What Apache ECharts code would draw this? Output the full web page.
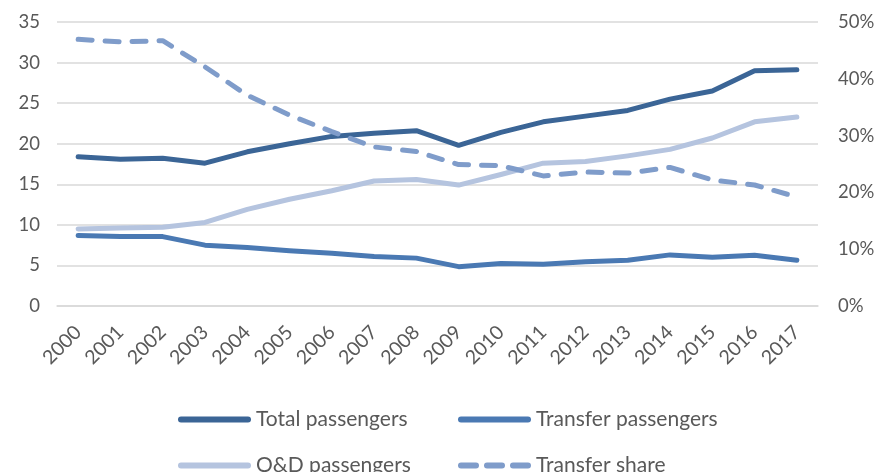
<!DOCTYPE html>
<html>
<head>
<meta charset="utf-8">
<script src="https://cdn.jsdelivr.net/npm/echarts@6/dist/echarts.min.js"></script>
<style>html,body{margin:0;padding:0;background:#fff;}#c{width:884px;height:472px;}</style>
</head>
<body>
<div id="c"></div>
<script>
const years = ['2000','2001','2002','2003','2004','2005','2006','2007','2008','2009','2010','2011','2012','2013','2014','2015','2016','2017'];
const totalPassengers = [18.4,18.1,18.2,17.6,19.0,20.0,20.9,21.3,21.6,19.8,21.4,22.7,23.4,24.1,25.5,26.5,29.0,29.1];
const transferPassengers = [8.7,8.55,8.55,7.5,7.2,6.8,6.5,6.1,5.9,4.85,5.25,5.15,5.45,5.65,6.3,6.0,6.25,5.65];
const odPassengers = [9.5,9.6,9.7,10.3,11.9,13.15,14.2,15.4,15.6,14.9,16.2,17.6,17.8,18.5,19.3,20.7,22.7,23.3];
const transferShare = [0.4695,0.465,0.467,0.421,0.371,0.336,0.307,0.280,0.272,0.249,0.247,0.229,0.236,0.234,0.244,0.222,0.213,0.192];
const leftTicks = [0,5,10,15,20,25,30,35];
const rightTicks = ['0%','10%','20%','30%','40%','50%'];

const FONT = 'Lato';
const TXT = '#595959';
const chart = echarts.init(document.getElementById('c'));
const lw = 5;
const lineIcon = 'path://M3,0 L70,0 A3,3 0 0 1 70,6 L3,6 A3,3 0 0 1 3,0 Z';
const dashIcon = 'path://M3,0 L18,0 A3,3 0 0 1 18,6 L3,6 A3,3 0 0 1 3,0 Z M29,0 L44,0 A3,3 0 0 1 44,6 L29,6 A3,3 0 0 1 29,0 Z M55,0 L70,0 A3,3 0 0 1 70,6 L55,6 A3,3 0 0 1 55,0 Z';
const legendText = {fontFamily: FONT, fontSize: 21, color: TXT};
function leg(name, icon, left, top) {
  return {left: left, top: top, itemWidth: 73, itemHeight: 6, itemGap: 8, textStyle: legendText,
    data: [{name: name, icon: icon}]};
}
chart.setOption({
  animation: false,
  grid: {left: 57, right: 66, top: 22, bottom: 166},
  xAxis: {
    type: 'category', data: years, boundaryGap: true,
    axisLine: {show: true, lineStyle: {color: '#d9d9d9', width: 1.5}},
    axisTick: {show: false},
    axisLabel: {rotate: 45, interval: 0, margin: 23, fontFamily: FONT, fontSize: 19.5, color: TXT}
  },
  yAxis: [{
    type: 'value', min: 0, max: 35, interval: 5,
    axisLine: {show: false}, axisTick: {show: false},
    splitLine: {lineStyle: {color: '#d9d9d9', width: 1.5}},
    axisLabel: {margin: 17, fontFamily: FONT, fontSize: 18.5, color: TXT,
      formatter: v => leftTicks.indexOf(v) >= 0 ? String(v) : ''}
  }, {
    type: 'value', min: 0, max: 0.5, interval: 0.1,
    axisLine: {show: false}, axisTick: {show: false}, splitLine: {show: false},
    axisLabel: {margin: 20, fontFamily: FONT, fontSize: 18.5, color: TXT,
      formatter: v => rightTicks[Math.round(v * 10)]}
  }],
  legend: [
    leg('Total passengers', lineIcon, 173, 404),
    leg('Transfer passengers', lineIcon, 453, 404),
    leg('O&D passengers', lineIcon, 173, 450),
    leg('Transfer share', dashIcon, 453, 450)
  ],
  series: [{
    name: 'Total passengers', type: 'line', data: totalPassengers, symbol: 'none',
    color: '#3b6596', lineStyle: {width: lw, cap: 'round', join: 'round', color: '#3b6596'}, z: 4
  }, {
    name: 'Transfer passengers', type: 'line', data: transferPassengers, symbol: 'none',
    color: '#4a79b3', lineStyle: {width: lw, cap: 'round', join: 'round', color: '#4a79b3'}, z: 3
  }, {
    name: 'O&D passengers', type: 'line', data: odPassengers, symbol: 'none',
    color: '#b5c4df', lineStyle: {width: lw, cap: 'round', join: 'round', color: '#b5c4df'}, z: 2
  }, {
    name: 'Transfer share', type: 'line', yAxisIndex: 1, data: transferShare, symbol: 'none',
    color: '#7f9cca', lineStyle: {width: lw, cap: 'round', join: 'round', color: '#7f9cca', type: [14, 13]}, z: 5
  }]
});
</script>
</body>
</html>
